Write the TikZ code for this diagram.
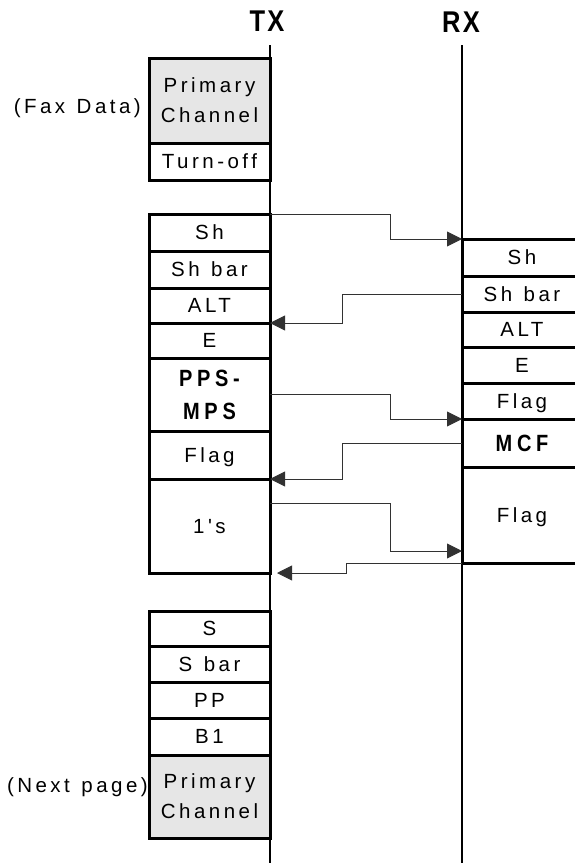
\documentclass[tikz,border=0pt]{standalone}
\usepackage{fontspec}
\setmainfont{Liberation Sans}[LetterSpace=17,WordSpace=1.25,Ligatures=TeXOff]
\newfontfamily\hdrfont{Liberation Sans}[FakeStretch=0.85,LetterSpace=8]
\newfontfamily\msgfont{Liberation Sans}[FakeStretch=0.85,LetterSpace=20]
\usetikzlibrary{calc,arrows.meta,positioning}
\definecolor{chgray}{RGB}{230,230,230}
\definecolor{msgline}{RGB}{50,50,50}

\tikzset{
  blk/.style={draw, line width=3pt, inner sep=0pt, outer sep=0pt, minimum width=121pt, minimum height=36pt,
    font=\fontsize{20.5}{30}\selectfont, text height=14.7pt, text depth=0pt},
  twoline/.style={text height={}, text depth={}, align=center},
  chan/.style={fill=chgray},
  boldmsg/.style={font=\msgfont\bfseries\fontsize{23.5}{33}\selectfont, text height=16.8pt},
  side/.style={inner sep=0pt, font=\fontsize{20.5}{30}\selectfont, text height=14.7pt, text depth=0pt},
  hdr/.style={inner sep=0pt, font=\hdrfont\bfseries\fontsize{30}{36}\selectfont, text height=21.5pt, text depth=0pt},
  life/.style={line width=2.7pt},
  msg/.style={line width=0.9pt, msgline, -{Triangle[length=15pt,width=15pt]}},
}

\begin{document}
\begin{tikzpicture}[x=1pt,y=-1pt]
\useasboundingbox (0,0) rectangle (575,863);
\clip (0,0) rectangle (575,863);

% stations
\node[hdr] (tx) at (267,21) {TX};
\node[hdr] (rx) at (461,21.5) {RX};
\coordinate (txtop) at (270,45);
\coordinate (txbot) at (270,863);
\coordinate (rxtop) at (462,45);
\coordinate (rxbot) at (462,863);

% end of fax data
\node[blk, chan, twoline, minimum height=85pt, anchor=north] (tpc1) at (209.5,58) {Primary\\Channel};
\node[blk, minimum height=37pt, below=0pt of tpc1] (toff) {Turn-off};
\node[side, anchor=east] (fax) at (141,106) {(Fax Data)};

% post message, TX side
\node[blk, minimum height=37pt, anchor=north] (tsh) at (209.5,214) {Sh};
\node[blk, minimum height=37pt, below=0pt of tsh] (tshb) {Sh bar};
\node[blk, minimum height=35pt, below=0pt of tshb] (talt) {ALT};
\node[blk, minimum height=35pt, below=0pt of talt] (te) {E};
\node[blk, boldmsg, twoline, minimum height=73pt, below=0pt of te] (tpps) {PPS-\\MPS};
\node[blk, minimum height=48pt, below=0pt of tpps] (tflag) {Flag};
\node[blk, minimum height=94pt, below=0pt of tflag] (tones) {1's};

% response, RX side
\node[blk, minimum width=120pt, minimum height=37pt, anchor=north] (rsh) at (522,239) {Sh};
\node[blk, minimum width=120pt, below=0pt of rsh] (rshb) {Sh bar};
\node[blk, minimum width=120pt, minimum height=35pt, below=0pt of rshb] (ralt) {ALT};
\node[blk, minimum width=120pt, below=0pt of ralt] (re) {E};
\node[blk, minimum width=120pt, below=0pt of re] (rflag) {Flag};
\node[blk, boldmsg, minimum width=120pt, minimum height=48pt, below=0pt of rflag] (rmcf) {MCF};
\node[blk, minimum width=120pt, minimum height=96pt, below=0pt of rmcf] (rflag2) {Flag};

% next page
\node[blk, minimum height=35pt, anchor=north] (ts) at (209.5,611) {S};
\node[blk, below=0pt of ts] (tsb) {S bar};
\node[blk, below=0pt of tsb] (tpp) {PP};
\node[blk, minimum height=37pt, below=0pt of tpp] (tb1) {B1};
\node[blk, chan, twoline, minimum height=83pt, below=0pt of tb1] (tpc2) {Primary\\Channel};
\node[side, anchor=east] (next) at (148,785) {(Next page)};

% lifelines
\draw[life] (txtop) -- (txbot);
\draw[life] (rxtop) -- (rxbot);

% exchanges
\draw[msg] (tsh.north east) -- ++(120,0) |- (rsh.north west);
\draw[msg] (rshb.west) -- ++(-120,0) |- (talt.south east);
\draw[msg] (tpps.east) -- ++(120,0) |- (rflag.south west);
\draw[msg] (rmcf.west) -- ++(-120,0) |- (tflag.south east);
\draw[msg] ($(tones.north east)+(0,24)$) -- ++(120,0) |- ($(rflag2.south west)+(0,-12)$);
\draw[msg, shorten >=7pt] (rflag2.south west) -- ++(-116,0) |- (tones.south east);
\end{tikzpicture}
\end{document}
